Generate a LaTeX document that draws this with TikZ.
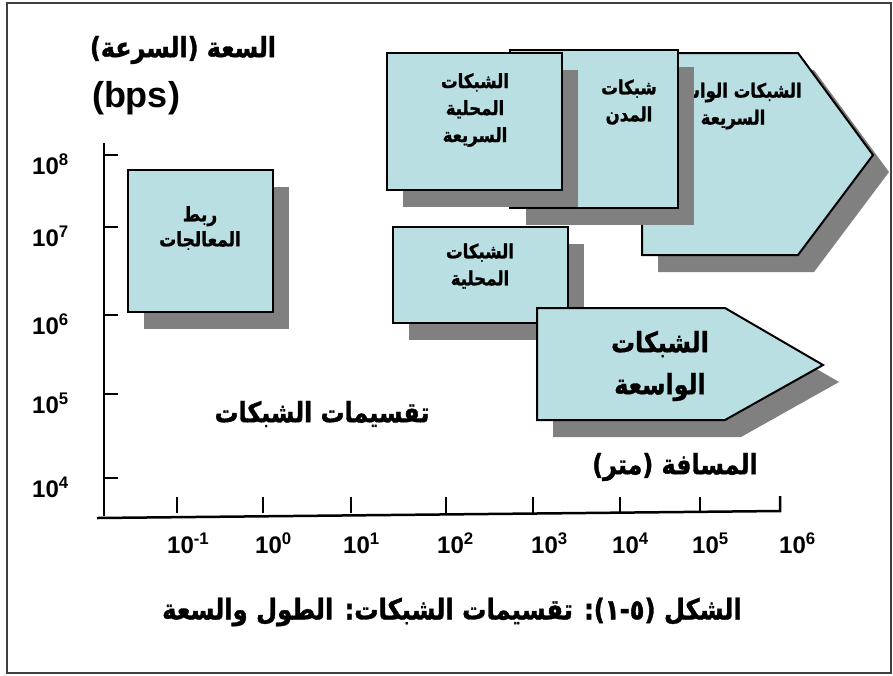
\documentclass[tikz,border=0pt]{standalone}
\usepackage{fontspec}
\setmainfont{Liberation Sans}
\newfontfamily\arabicfont[Script=Arabic, FakeStretch=0.85, BoldFeatures={FakeBold=1.2}]{DejaVu Sans}
\TeXXeTstate=1
\usepackage{tikz}
\usetikzlibrary{calc}
\definecolor{netblue}{RGB}{186,223,226}
\definecolor{shadegray}{RGB}{128,128,128}
\newcommand{\artxt}[1]{\beginR #1\endR}
\tikzset{
    netbox/.style={draw=black, line width=2pt, fill=netblue},
    netshade/.style={fill=shadegray, shift={(16,17)}},
    boxtext/.style={font=\arabicfont\bfseries\fontsize{19.5}{27}\selectfont, align=center, inner sep=0},
    bigtext/.style={font=\arabicfont\bfseries\fontsize{28}{34}\selectfont, inner sep=0},
    ticklabel/.style={font=\bfseries\fontsize{24}{26}\selectfont, inner sep=0},
}

\begin{document}
\begin{tikzpicture}[x=1pt, y=-1pt]
    \useasboundingbox (0,0) rectangle (893,675);
    \draw[line width=1.5pt, black!75] (7,3) rectangle (891,673);
    \coordinate (ytop) at (104,143);
    \coordinate (origin) at (104,516);
    \coordinate (xleft) at (97,518);
    \coordinate (xright) at (780,511);
    \draw[black, line width=2.5pt] (ytop) -- (origin);
    \draw[black, line width=2.5pt] (xleft) -- (xright) -- ++(0,-15);
    \foreach \y/\e in {155/8, 227/7, 315/6, 394/5, 478/4} {
      \draw[black, line width=2pt] (104,\y) -- ++(14,0);
      \node[ticklabel, anchor=west] (ylab\e) at (32,\y+9) {10\textsuperscript{\e}};
    }
    \foreach \x in {177, 263, 351, 446, 533, 620, 700} {
      \draw[black, line width=2pt] (\x,497) -- (\x,513);
    }
    \foreach \lx/\e [count=\i] in {167/-1, 255/0, 343/1, 437/2, 531/3, 612/4, 692/5, 779/6} {
      \node[ticklabel, anchor=west] (xlab\i) at (\lx,543) {10\textsuperscript{\e}};
    }
    \node[bigtext] (ytitle) at (183,50) {\artxt{السعة (السرعة)}};
    \node[font=\bfseries\fontsize{36}{40}\selectfont, inner sep=0] (bps) at (136,98) {(bps)};
    \fill[netshade] (642,53) -- (798,53) -- (873,155) -- (798,255) -- (642,255) -- cycle;
    \filldraw[netbox] (642,53) -- (798,53) -- (873,155) -- (798,255) -- (642,255) -- cycle;
    \node[boxtext] (fastwan) at (733,106) {\artxt{الشبكات الواسعة}\\\artxt{السريعة}};
    \fill[netshade] (510,50) rectangle (678,208);
    \filldraw[netbox] (510,50) rectangle (678,208);
    \node[boxtext] (man) at (629,102) {\artxt{شبكات}\\\artxt{المدن}};
    \fill[netshade] (387,53) rectangle (562,190);
    \filldraw[netbox] (387,53) rectangle (562,190);
    \node[boxtext] (fastlan) at (475,110) {\artxt{الشبكات}\\\artxt{المحلية}\\\artxt{السريعة}};
    \fill[netshade] (393,227) rectangle (568,323);
    \filldraw[netbox] (393,227) rectangle (568,323);
    \node[boxtext] (lan) at (480,266) {\artxt{الشبكات}\\\artxt{المحلية}};
    \fill[netshade] (537,308) -- (725,308) -- (823,365) -- (725,420) -- (537,420) -- cycle;
    \filldraw[netbox] (537,308) -- (725,308) -- (823,365) -- (725,420) -- (537,420) -- cycle;
    \node[boxtext, font=\arabicfont\bfseries\fontsize{28}{42}\selectfont] (wan) at (660,366) {\artxt{الشبكات}\\\artxt{الواسعة}};
    \fill[netshade] (128,170) rectangle (273,312);
    \filldraw[netbox] (128,170) rectangle (273,312);
    \node[boxtext, font=\arabicfont\bfseries\fontsize{20}{25}\selectfont] (proc) at (200,228) {\artxt{ربط}\\\artxt{المعالجات}};
    \node[bigtext] (classes) at (322,414) {\artxt{تقسيمات الشبكات}};
    \node[bigtext] (xtitle) at (675,467) {\artxt{المسافة (متر)}};
    \node[bigtext, font=\arabicfont\bfseries\fontsize{28.5}{34}\selectfont] (caption) at (452,612) {\beginR الشكل \beginL(٥-١)\endL: تقسيمات الشبكات: الطول والسعة\endR};
\end{tikzpicture}
\end{document}
